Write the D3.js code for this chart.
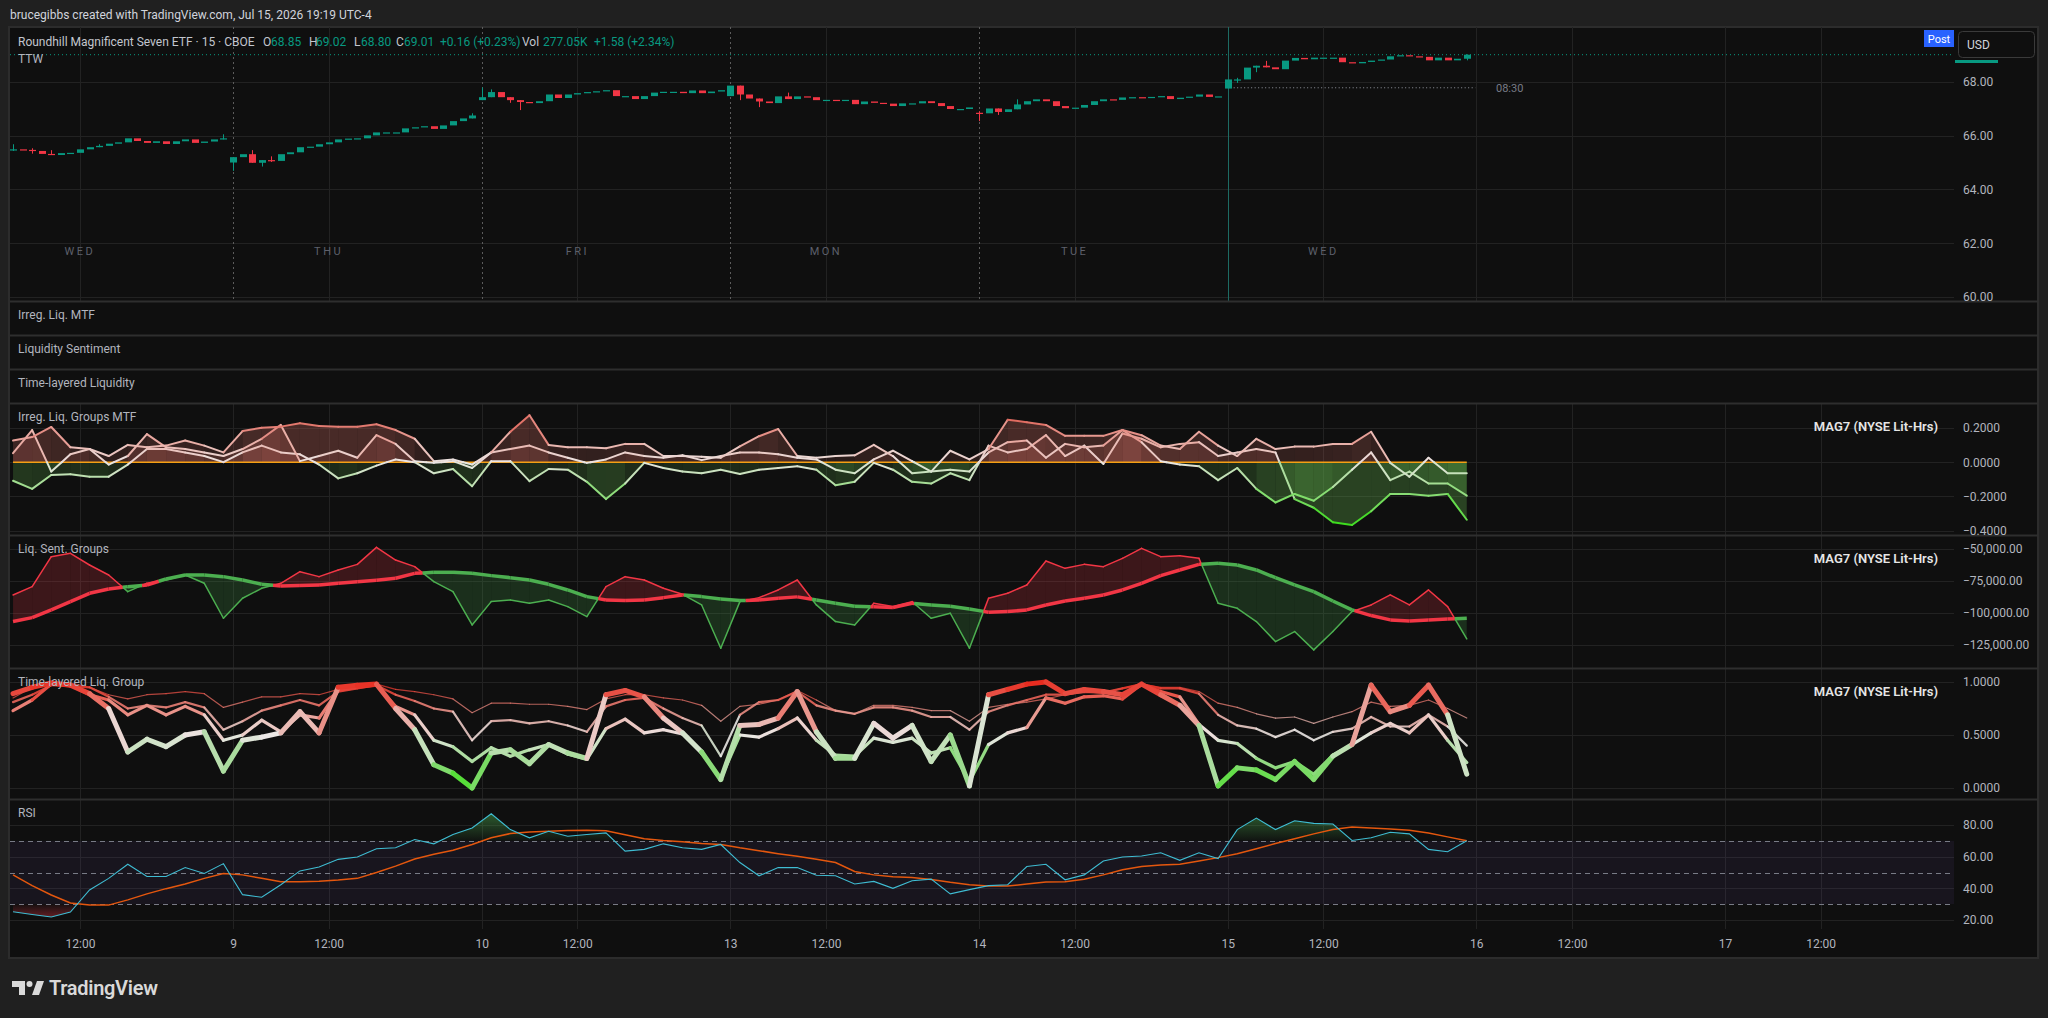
<!DOCTYPE html>
<html>
<head>
<meta charset="utf-8">
<title>TTW 15 - liquidity panes</title>
<script src="https://cdn.jsdelivr.net/npm/d3@7/dist/d3.min.js"></script>
<style>
  html, body { margin: 0; padding: 0; background: #202020; overflow: hidden; }
  text { font-family: Roboto, "Noto Sans", sans-serif; }
</style>
</head>
<body>
<svg id="chart" width="2048" height="1018"></svg>
<script>
'use strict';

// ---------------- data (bar index: 26 bars per session, 0 = Jul 8 09:30) ----------------

var closes = [
  65.49,65.47,65.43,65.32,65.28,65.35,65.36,65.49,65.57,65.62,65.70,65.75,65.90,65.80,65.73,65.79,65.69,65.79,65.86,65.73,65.78,65.86,65.90,
  65.20,65.31,64.99,65.09,65.06,65.31,65.38,65.57,65.59,65.68,65.75,65.86,65.89,65.90,66.01,66.12,66.12,66.12,66.27,66.31,66.35,66.25,66.38,66.54,66.64,66.75,
  67.43,67.62,67.43,67.32,67.25,67.21,67.28,67.53,67.40,67.53,67.58,67.62,67.65,67.69,67.47,67.47,67.36,67.47,67.60,67.63,67.63,67.58,67.68,67.58,67.64,67.69,
  67.86,67.53,67.38,67.27,67.21,67.46,67.36,67.46,67.43,67.32,67.33,67.31,67.33,67.17,67.27,67.22,67.19,67.10,67.20,67.20,67.28,67.21,67.10,66.99,66.99,67.05,
  66.83,67.01,66.88,66.98,67.16,67.28,67.35,67.28,67.10,67.02,67.04,67.14,67.28,67.35,67.33,67.42,67.43,67.41,67.44,67.47,67.36,67.41,67.45,67.53,67.44,67.46,
  68.09,68.09,68.53,68.60,68.54,68.47,68.79,68.89,68.84,68.90,68.90,68.90,68.73,68.69,68.74,68.79,68.83,68.95,68.99,68.95,68.93,68.80,68.90,68.80,68.86,69.01
];
var firstBar = 3;
// opens that do not equal the previous close (session gaps)
var gapOpens = {3: 65.48, 26: 65.00, 52: 67.32, 78: 67.47, 104: 66.85, 130: 67.75};
// [bar, high, low] for visible wicks
var wicks = [
  [3,65.68,65.43],[5,65.53,65.33],[7,65.46,65.28],[12,65.68,65.57],[25,66.05,65.86],
  [26,65.20,64.69],[28,65.46,64.99],[29,65.09,64.85],[30,65.23,65.02],[51,66.83,66.64],
  [52,67.79,67.32],[53,67.72,67.43],[55,67.43,67.22],[56,67.32,66.95],[79,67.86,67.32],
  [81,67.38,67.06],[84,67.60,67.36],[104,66.91,66.54],[106,67.01,66.77],[108,67.35,66.98],
  [131,68.15,67.96],[133,68.60,68.36],[134,68.78,68.54],[155,69.02,68.80]
];
var lastClose = 69.01;
var sessionOpenLevel = 67.78;

var xTickBars = [10,26,36,52,62,78,88,104,114,130,140,156,166,182,192];
var xTickLabels = ['12:00','9','12:00','10','12:00','13','12:00','14','12:00','15','12:00','16','12:00','17','12:00'];
var dayNameBars = [10,36,62,88,114,140];
var dayNames = ['WED','THU','FRI','MON','TUE','WED'];
var sessionBreaks = [26,52,78,104];
var currentSession = 130;

// indicator samples every second bar: 3,5,...,155
var sampleBars = d3.range(3, 156, 2);

var irregA = [0.127,0.147,0.206,0.087,0.077,0.036,0.101,0.087,0.097,0.127,0.097,0.057,0.182,0.202,0.208,0.228,0.212,0.208,0.208,0.222,0.188,0.137,0.006,0.016,-0.014,0.057,0.178,0.275,0.101,0.087,0.087,0.081,0.107,0.107,0.036,0.036,0.032,0.026,0.093,
  0.152,0.194,0.036,0.026,0.036,0.040,0.101,0.036,-0.065,-0.055,0.067,0.016,0.077,0.248,0.234,0.218,0.154,0.154,0.154,0.188,0.158,0.097,0.077,0.178,0.097,0.036,0.137,0.077,0.091,0.091,0.107,0.107,0.178,-0.004,-0.085,0.026,-0.065,-0.065];
var irregB = [0.053,0.188,-0.055,0.046,0.077,-0.014,0.036,0.164,0.087,0.077,0.057,0.036,0.077,0.137,0.218,0.006,0.036,0.067,0.026,0.158,0.107,0.006,-0.004,0.006,-0.034,0.057,0.077,0.097,0.057,0.026,-0.004,0.016,0.057,0.036,0.026,0.040,0.012,0.036,0.057,
  0.057,0.046,0.026,0.016,-0.044,-0.065,0.016,0.067,0.006,-0.055,-0.044,-0.055,0.057,0.117,0.127,0.026,0.107,0.087,0.097,0.188,0.117,0.006,-0.014,-0.024,-0.105,-0.034,-0.156,-0.236,-0.186,-0.226,-0.145,-0.044,0.057,-0.105,-0.055,-0.125,-0.125,-0.196];
var irregC = [-0.109,-0.156,-0.075,-0.071,-0.085,-0.085,-0.014,0.077,0.077,0.057,0.036,0.000,0.057,0.097,0.057,0.046,-0.014,-0.095,-0.065,-0.020,0.016,0.000,-0.065,-0.040,-0.141,0.006,0.006,-0.111,-0.040,-0.044,-0.115,-0.216,-0.125,-0.004,-0.034,-0.055,-0.065,-0.044,-0.069,
  -0.044,-0.034,-0.024,-0.044,-0.135,-0.115,-0.004,-0.044,-0.115,-0.125,-0.065,-0.105,0.097,0.057,0.077,0.158,0.036,0.097,-0.010,0.168,0.137,0.087,0.107,0.117,0.036,0.057,0.077,0.057,-0.216,-0.267,-0.352,-0.368,-0.287,-0.186,-0.186,-0.196,-0.186,-0.337];

var sentRaw = [-85900,-79400,-56000,-53400,-62500,-70300,-83300,-76800,-74200,-70300,-76800,-104100,-88500,-80700,-76800,-67700,-71600,-66400,-62000,-48700,-58600,-63800,-75500,-83300,-109300,-91100,-89800,-92400,-89800,-95000,-102800,-79400,-71600,-74200,-80700,-85400,-93700,-127500,-91100,
  -88000,-82000,-74200,-93700,-106700,-109300,-92400,-95000,-91100,-104100,-100200,-127500,-88500,-84600,-78100,-59400,-65100,-62000,-63800,-57300,-49500,-56000,-55200,-57300,-92400,-96300,-106700,-122300,-114500,-128800,-114500,-98900,-93700,-85900,-93700,-82000,-95000,-120200];
var sentSmooth = [-106700,-103600,-97600,-91100,-84600,-81200,-79400,-78100,-73400,-70300,-70300,-71600,-74200,-77600,-78900,-78600,-78100,-76800,-75500,-74400,-72900,-69000,-68200,-68200,-69000,-70800,-72400,-74200,-77600,-82000,-87200,-89800,-90300,-89800,-88000,-85900,-87200,-89000,-90300,
  -89800,-88500,-87400,-89800,-92400,-94700,-95200,-95800,-92400,-93700,-94700,-96800,-99400,-98900,-97600,-93700,-90600,-88500,-85900,-82000,-76800,-70800,-66400,-62000,-61200,-62500,-66400,-72400,-78100,-83300,-90600,-97600,-102000,-105400,-106200,-105400,-104600,-104100];

var layerSlow = [0.85,0.95,0.99,0.99,0.95,0.88,0.84,0.88,0.89,0.91,0.89,0.76,0.81,0.86,0.86,0.89,0.88,0.93,0.95,0.98,0.93,0.91,0.88,0.84,0.71,0.80,0.80,0.79,0.79,0.77,0.74,0.84,0.88,0.88,0.85,0.83,0.78,0.63,0.77,
  0.79,0.83,0.92,0.83,0.73,0.70,0.78,0.78,0.76,0.73,0.73,0.63,0.76,0.79,0.81,0.84,0.88,0.90,0.90,0.94,0.98,0.95,0.95,0.91,0.80,0.76,0.70,0.66,0.67,0.61,0.67,0.72,0.81,0.77,0.78,0.83,0.75,0.66];
var layerMid = [0.81,0.88,0.97,0.96,0.95,0.86,0.75,0.78,0.76,0.81,0.76,0.55,0.63,0.73,0.78,0.83,0.78,0.91,0.94,0.97,0.88,0.82,0.75,0.72,0.45,0.63,0.64,0.61,0.63,0.59,0.53,0.77,0.83,0.85,0.75,0.66,0.59,0.30,0.69,
  0.81,0.83,0.91,0.78,0.73,0.70,0.76,0.76,0.73,0.67,0.67,0.55,0.72,0.78,0.83,0.88,0.88,0.91,0.90,0.94,0.98,0.94,0.94,0.89,0.69,0.59,0.56,0.48,0.55,0.45,0.53,0.56,0.67,0.58,0.58,0.69,0.58,0.40];
var layerFast = [0.73,0.83,0.98,0.97,0.88,0.83,0.69,0.78,0.69,0.77,0.69,0.45,0.50,0.64,0.53,0.69,0.66,0.92,0.95,0.97,0.77,0.69,0.45,0.39,0.25,0.38,0.30,0.36,0.41,0.32,0.27,0.56,0.65,0.52,0.55,0.51,0.33,0.09,0.50,
  0.48,0.56,0.66,0.45,0.31,0.30,0.47,0.43,0.47,0.33,0.38,0.06,0.41,0.52,0.57,0.85,0.80,0.86,0.87,0.84,0.98,0.91,0.86,0.60,0.45,0.42,0.28,0.19,0.25,0.13,0.31,0.41,0.52,0.61,0.52,0.69,0.45,0.24];
var layerFastest = [0.89,0.95,0.99,0.97,0.89,0.75,0.34,0.46,0.39,0.50,0.53,0.16,0.45,0.48,0.52,0.72,0.52,0.95,0.97,0.98,0.75,0.55,0.22,0.14,0.00,0.33,0.36,0.23,0.41,0.33,0.28,0.88,0.92,0.86,0.66,0.52,0.34,0.08,0.59,
  0.60,0.66,0.91,0.53,0.28,0.28,0.61,0.47,0.59,0.25,0.50,0.02,0.88,0.93,0.98,1.00,0.89,0.93,0.91,0.88,0.98,0.88,0.78,0.59,0.02,0.19,0.17,0.08,0.25,0.08,0.30,0.41,0.97,0.72,0.78,0.97,0.69,0.13];

var rsi = [25.2,23.5,21.9,25.0,39.0,46.3,55.2,47.5,47.5,53.1,49.4,55.6,36.0,34.4,42.3,51.0,53.5,58.3,59.8,65.0,65.6,70.8,68.1,74.0,78.1,87.1,77.1,71.9,76.0,72.9,74.0,75.0,63.5,64.6,68.1,65.6,64.6,67.7,56.3,
  47.9,53.1,53.1,48.3,47.9,42.7,44.4,40.0,44.8,45.8,36.5,39.2,41.7,42.3,53.8,55.2,45.4,48.5,57.3,59.8,60.4,62.5,57.7,62.5,58.8,77.1,84.4,77.1,82.7,81.0,80.6,70.2,71.9,75.4,74.4,64.6,63.1,70.0];
var rsiMa = [48.5,41.7,35.8,30.8,29.4,29.4,32.7,36.5,39.8,42.7,46.3,49.4,48.5,46.3,44.2,44.2,44.4,45.2,46.3,50.0,54.0,58.5,61.5,64.0,67.7,71.9,74.6,75.6,76.0,76.5,76.7,76.3,73.8,71.3,70.2,69.4,68.3,67.7,65.6,
  63.8,61.9,60.2,58.3,56.3,50.6,48.5,47.3,46.9,45.6,43.8,42.3,41.5,41.5,42.7,44.0,44.2,45.8,48.5,51.7,53.8,54.8,55.2,57.3,59.4,61.9,65.0,68.3,71.3,74.4,77.1,78.8,78.1,77.5,76.7,75.0,72.5,70.0];

var priceTicks = [60, 62, 64, 66, 68];
var irregTicks = [-0.4, -0.2, 0, 0.2];
var sentTicks = [-125000, -100000, -75000, -50000];
var layerTicks = [0, 0.5, 1];
var rsiTicks = [20, 40, 60, 80];
var rsiLevels = [30, 50, 70];

// ---------------- layout ----------------

var plotL = 10, plotR = 1954, frameR = 2038;
var FONT = 'Roboto, "Noto Sans", sans-serif';
var UP = '#089981', DOWN = '#f23645', AXIS_TXT = '#b2b5be', GRID = '#222222';

var panes = {
	main:   {top: 27,  bottom: 301},
	ilm:    {top: 301, bottom: 335, label: 'Irreg. Liq. MTF'},
	ls:     {top: 335, bottom: 369, label: 'Liquidity Sentiment'},
	tl:     {top: 369, bottom: 403, label: 'Time-layered Liquidity'},
	irreg:  {top: 403, bottom: 535, label: 'Irreg. Liq. Groups MTF'},
	sent:   {top: 535, bottom: 668, label: 'Liq. Sent. Groups'},
	layer:  {top: 668, bottom: 799, label: 'Time-layered Liq. Group'},
	rsi:    {top: 799, bottom: 929, label: 'RSI'}
};

var x = d3.scaleLinear().domain([26, 182]).range([233, 1725]);
var yPrice = d3.scaleLinear().domain([59.85, 70.04]).range([301, 27]);
var yIrreg = d3.scaleLinear().domain([-0.4, 0.2]).range([530.5, 428]);
var ySent  = d3.scaleLinear().domain([-125000, -50000]).range([645, 549]);
var yLayer = d3.scaleLinear().domain([0, 1]).range([788, 682]);
var yRsi   = d3.scaleLinear().domain([20, 80]).range([920, 825]);

var irregColor = d3.scaleLinear()
	.domain([-0.35, -0.12, 0, 0.12, 0.25])
	.range(['#3ddc1e', '#a6dd96', '#ece6e4', '#e9aba3', '#e0675c'])
	.clamp(true);
var layerColor = d3.scaleLinear()
	.domain([0, 0.25, 0.5, 0.75, 1])
	.range(['#3ee01a', '#98d98a', '#ebe7e5', '#e98c82', '#e8281c'])
	.clamp(true);

var svg = d3.select('#chart');
var defs = svg.append('defs');

svg.append('rect').attr('width', 2048).attr('height', 1018).attr('fill', '#202020');
svg.append('rect')
	.attr('x', 9).attr('y', 27).attr('width', frameR - 9).attr('height', 931)
	.attr('fill', '#0f0f0f').attr('stroke', '#2c2c2c').attr('stroke-width', 2);

// clip for each pane plot area
Object.keys(panes).forEach(function(k) {
	var p = panes[k];
	defs.append('clipPath').attr('id', 'clip-' + k)
		.append('rect').attr('x', plotL).attr('y', p.top)
		.attr('width', plotR - plotL).attr('height', p.bottom - p.top);
	defs.append('clipPath').attr('id', 'aclip-' + k)
		.append('rect').attr('x', plotR).attr('y', p.top)
		.attr('width', frameR - plotR).attr('height', p.bottom - p.top);
	p.g = svg.append('g').attr('clip-path', 'url(#clip-' + k + ')');
});

// ---------------- grids ----------------

function hGrid(p, scale, values) {
	p.g.append('g').selectAll('line').data(values).join('line')
		.attr('x1', plotL).attr('x2', plotR)
		.attr('y1', function(d){ return Math.round(scale(d)) + 0.5; })
		.attr('y2', function(d){ return Math.round(scale(d)) + 0.5; })
		.attr('stroke', GRID).attr('stroke-width', 1);
}

function vGrid(p, sessionDots) {
	p.g.append('g').selectAll('line').data(xTickBars).join('line')
		.attr('x1', function(d){ return Math.round(x(d)) + 0.5; })
		.attr('x2', function(d){ return Math.round(x(d)) + 0.5; })
		.attr('y1', p.top).attr('y2', p.bottom)
		.attr('stroke', function(d){
			if (!sessionDots) return GRID;
			if (sessionBreaks.indexOf(d) >= 0) return '#5c5c5c';
			if (d === currentSession) return '#1d6b63';
			return GRID;
		})
		.attr('stroke-dasharray', function(d){ return sessionDots && sessionBreaks.indexOf(d) >= 0 ? '2,3' : null; });
}

hGrid(panes.main, yPrice, priceTicks);
vGrid(panes.main, true);
['irreg', 'sent', 'layer', 'rsi'].forEach(function(k){ vGrid(panes[k], false); });
hGrid(panes.irreg, yIrreg, irregTicks);
hGrid(panes.sent, ySent, sentTicks);
hGrid(panes.layer, yLayer, layerTicks);
hGrid(panes.rsi, yRsi, rsiTicks);

// pane separators
svg.append('g').selectAll('line')
	.data([301, 335, 369, 403, 535, 668, 799])
	.join('line')
	.attr('x1', plotL).attr('x2', frameR)
	.attr('y1', function(d){ return d + 0.5; }).attr('y2', function(d){ return d + 0.5; })
	.attr('stroke', '#2e2e2e').attr('stroke-width', 2);

// ---------------- right axes ----------------

function rightAxis(key, scale, values, fmt) {
	var ax = svg.append('g')
		.attr('clip-path', 'url(#aclip-' + key + ')')
		.append('g')
		.attr('transform', 'translate(' + plotR + ',0)')
		.call(d3.axisRight(scale).tickValues(values).tickFormat(fmt).tickSize(0).tickPadding(9));
	ax.attr('font-family', FONT).attr('font-size', 12);
	ax.select('.domain').remove();
	ax.selectAll('text').attr('fill', AXIS_TXT);
}
rightAxis('main', yPrice, priceTicks, d3.format('.2f'));
rightAxis('irreg', yIrreg, irregTicks, d3.format('.4f'));
rightAxis('sent', ySent, sentTicks, d3.format(',.2f'));
rightAxis('layer', yLayer, layerTicks, d3.format('.4f'));
rightAxis('rsi', yRsi, rsiTicks, d3.format('.2f'));

// ---------------- time axis ----------------

var xAxis = svg.append('g')
	.attr('transform', 'translate(0,929)')
	.call(d3.axisBottom(x).tickValues(xTickBars)
		.tickFormat(function(d, i){ return xTickLabels[i]; })
		.tickSize(0).tickPadding(10));
xAxis.attr('font-family', FONT).attr('font-size', 12);
xAxis.select('.domain').remove();
xAxis.selectAll('text').attr('fill', AXIS_TXT);

// weekday watermarks in price pane
panes.main.g.append('g').selectAll('text').data(dayNameBars).join('text')
	.attr('x', function(d){ return x(d); }).attr('y', 255)
	.attr('text-anchor', 'middle').attr('font-size', 11).attr('letter-spacing', 2.5)
	.attr('fill', '#5d606b')
	.text(function(d, i){ return dayNames[i]; });

// ---------------- candles ----------------

var wickMap = {};
wicks.forEach(function(w){ wickMap[w[0]] = [w[1], w[2]]; });

var candles = closes.map(function(c, i) {
	var bar = firstBar + i;
	var o = gapOpens[bar] !== undefined ? gapOpens[bar] : closes[i - 1];
	return {bar: bar, o: o, c: c, w: wickMap[bar]};
});

var cg = panes.main.g.append('g');
cg.selectAll('line').data(candles.filter(function(d){ return d.w; })).join('line')
	.attr('x1', function(d){ return Math.round(x(d.bar)) + 0.5; })
	.attr('x2', function(d){ return Math.round(x(d.bar)) + 0.5; })
	.attr('y1', function(d){ return yPrice(d.w[0]); })
	.attr('y2', function(d){ return yPrice(d.w[1]); })
	.attr('stroke', function(d){ return d.c >= d.o ? UP : DOWN; });
cg.selectAll('rect').data(candles).join('rect')
	.attr('x', function(d){ return Math.round(x(d.bar)) - 3; })
	.attr('width', 7)
	.attr('y', function(d){ return yPrice(Math.max(d.o, d.c)); })
	.attr('height', function(d){ return Math.max(1.2, yPrice(Math.min(d.o, d.c)) - yPrice(Math.max(d.o, d.c))); })
	.attr('fill', function(d){ return d.c >= d.o ? UP : DOWN; });

// last price dotted line and session-open marker
panes.main.g.append('line')
	.attr('x1', plotL).attr('x2', plotR)
	.attr('y1', yPrice(lastClose)).attr('y2', yPrice(lastClose))
	.attr('stroke', UP).attr('stroke-dasharray', '1,3');
svg.append('line')
	.attr('x1', x(currentSession) + 6).attr('x2', x(156) - 1)
	.attr('y1', yPrice(sessionOpenLevel)).attr('y2', yPrice(sessionOpenLevel))
	.attr('stroke', '#9598a1').attr('stroke-dasharray', '1,2.5');
svg.append('text').attr('x', 1496).attr('y', yPrice(sessionOpenLevel) + 4)
	.attr('font-size', 11).attr('fill', '#787b86').text('08:30');

// ---------------- Irreg. Liq. Groups MTF ----------------

function zeroSplitSegments(vals) {
	var segs = [];
	for (var i = 0; i < vals.length - 1; i++) {
		var x1 = x(sampleBars[i]), x2 = x(sampleBars[i + 1]);
		var v1 = vals[i], v2 = vals[i + 1];
		if (v1 * v2 < 0) {
			var xc = x1 + (x2 - x1) * v1 / (v1 - v2);
			segs.push({a: [x1, v1], b: [xc, 0], v: v1 / 2});
			segs.push({a: [xc, 0], b: [x2, v2], v: v2 / 2});
		} else {
			segs.push({a: [x1, v1], b: [x2, v2], v: (v1 + v2) / 2});
		}
	}
	return segs;
}

var irregSeries = [irregC, irregB, irregA];
var irregFill = panes.irreg.g.append('g');
irregSeries.forEach(function(vals) {
	irregFill.append('g').selectAll('path').data(zeroSplitSegments(vals)).join('path')
		.attr('d', function(s) {
			return 'M' + s.a[0] + ',' + yIrreg(0) + 'L' + s.a[0] + ',' + yIrreg(s.a[1]) +
				'L' + s.b[0] + ',' + yIrreg(s.b[1]) + 'L' + s.b[0] + ',' + yIrreg(0) + 'Z';
		})
		.attr('fill', function(s){ return s.v >= 0 ? '#c0655b' : '#5fae4c'; })
		.attr('fill-opacity', function(s){ return 0.12 + Math.min(0.2, Math.abs(s.v) * 1.0); });
});
panes.irreg.g.append('line')
	.attr('x1', x(sampleBars[0])).attr('x2', x(sampleBars[sampleBars.length - 1]))
	.attr('y1', yIrreg(0)).attr('y2', yIrreg(0))
	.attr('stroke', '#f59f14').attr('stroke-width', 1.5);
irregSeries.forEach(function(vals) {
	panes.irreg.g.append('g').selectAll('line').data(zeroSplitSegments(vals)).join('line')
		.attr('x1', function(s){ return s.a[0]; }).attr('y1', function(s){ return yIrreg(s.a[1]); })
		.attr('x2', function(s){ return s.b[0]; }).attr('y2', function(s){ return yIrreg(s.b[1]); })
		.attr('stroke', function(s){ return irregColor(s.v); })
		.attr('stroke-width', 2).attr('stroke-linecap', 'round');
});

// ---------------- Liq. Sent. Groups ----------------

var sentSegs = [];
for (var i = 0; i < sentRaw.length - 1; i++) {
	var x1 = x(sampleBars[i]), x2 = x(sampleBars[i + 1]);
	var d1 = sentRaw[i] - sentSmooth[i], d2 = sentRaw[i + 1] - sentSmooth[i + 1];
	if (d1 * d2 < 0) {
		var t = d1 / (d1 - d2), xc = x1 + (x2 - x1) * t;
		var vc = sentRaw[i] + t * (sentRaw[i + 1] - sentRaw[i]);
		var sc = sentSmooth[i] + t * (sentSmooth[i + 1] - sentSmooth[i]);
		sentSegs.push({x1: x1, x2: xc, r1: sentRaw[i], r2: vc, s1: sentSmooth[i], s2: sc, up: d1 > 0});
		sentSegs.push({x1: xc, x2: x2, r1: vc, r2: sentRaw[i + 1], s1: sc, s2: sentSmooth[i + 1], up: d2 > 0});
	} else {
		sentSegs.push({x1: x1, x2: x2, r1: sentRaw[i], r2: sentRaw[i + 1], s1: sentSmooth[i], s2: sentSmooth[i + 1], up: (d1 + d2) > 0});
	}
}
var sg = panes.sent.g;
sg.append('g').selectAll('path').data(sentSegs).join('path')
	.attr('d', function(s) {
		return 'M' + s.x1 + ',' + ySent(s.r1) + 'L' + s.x2 + ',' + ySent(s.r2) +
			'L' + s.x2 + ',' + ySent(s.s2) + 'L' + s.x1 + ',' + ySent(s.s1) + 'Z';
	})
	.attr('fill', function(s){ return s.up ? DOWN : '#4caf50'; })
	.attr('fill-opacity', 0.2);
sg.append('g').selectAll('line').data(sentSegs).join('line')
	.attr('x1', function(s){ return s.x1; }).attr('x2', function(s){ return s.x2; })
	.attr('y1', function(s){ return ySent(s.r1); }).attr('y2', function(s){ return ySent(s.r2); })
	.attr('stroke', function(s){ return s.up ? DOWN : '#4caf50'; })
	.attr('stroke-width', 1.5).attr('stroke-linecap', 'round');
sg.append('g').selectAll('line').data(sentSegs).join('line')
	.attr('x1', function(s){ return s.x1; }).attr('x2', function(s){ return s.x2; })
	.attr('y1', function(s){ return ySent(s.s1); }).attr('y2', function(s){ return ySent(s.s2); })
	.attr('stroke', function(s){ return s.up ? DOWN : '#4caf50'; })
	.attr('stroke-width', 3.5).attr('stroke-linecap', 'butt');

// ---------------- Time-layered Liq. Group ----------------

var layerSeries = [
	{vals: layerSlow, w: 1.2, op: 0.75},
	{vals: layerMid, w: 2.2, op: 0.9},
	{vals: layerFast, w: 3.2, op: 1},
	{vals: layerFastest, w: 5, op: 1}
];
layerSeries.forEach(function(s) {
	var segs = d3.pairs(d3.zip(sampleBars, s.vals));
	panes.layer.g.append('g').selectAll('line').data(segs).join('line')
		.attr('x1', function(p){ return x(p[0][0]); }).attr('y1', function(p){ return yLayer(p[0][1]); })
		.attr('x2', function(p){ return x(p[1][0]); }).attr('y2', function(p){ return yLayer(p[1][1]); })
		.attr('stroke', function(p){ return layerColor((p[0][1] + p[1][1]) / 2); })
		.attr('stroke-opacity', s.op)
		.attr('stroke-width', s.w).attr('stroke-linecap', 'round');
});

// ---------------- RSI ----------------

var rg = panes.rsi.g;
rg.append('rect')
	.attr('x', plotL).attr('width', plotR - plotL)
	.attr('y', yRsi(70)).attr('height', yRsi(30) - yRsi(70))
	.attr('fill', '#7e57c2').attr('fill-opacity', 0.09);
rg.append('g').selectAll('line').data(rsiLevels).join('line')
	.attr('x1', plotL).attr('x2', plotR)
	.attr('y1', function(d){ return Math.round(yRsi(d)) + 0.5; })
	.attr('y2', function(d){ return Math.round(yRsi(d)) + 0.5; })
	.attr('stroke', '#787b86').attr('stroke-dasharray', '5,4');

var obGrad = defs.append('linearGradient').attr('id', 'ob-grad')
	.attr('gradientUnits', 'userSpaceOnUse')
	.attr('x1', 0).attr('x2', 0).attr('y1', yRsi(88)).attr('y2', yRsi(70));
obGrad.append('stop').attr('offset', 0).attr('stop-color', '#4caf50').attr('stop-opacity', 0.5);
obGrad.append('stop').attr('offset', 1).attr('stop-color', '#4caf50').attr('stop-opacity', 0.03);
var osGrad = defs.append('linearGradient').attr('id', 'os-grad')
	.attr('gradientUnits', 'userSpaceOnUse')
	.attr('x1', 0).attr('x2', 0).attr('y1', yRsi(30)).attr('y2', yRsi(20));
osGrad.append('stop').attr('offset', 0).attr('stop-color', DOWN).attr('stop-opacity', 0.03);
osGrad.append('stop').attr('offset', 1).attr('stop-color', DOWN).attr('stop-opacity', 0.45);

defs.append('clipPath').attr('id', 'clip-ob').append('rect')
	.attr('x', plotL).attr('y', panes.rsi.top).attr('width', plotR - plotL).attr('height', yRsi(70) - panes.rsi.top);
defs.append('clipPath').attr('id', 'clip-os').append('rect')
	.attr('x', plotL).attr('y', yRsi(30)).attr('width', plotR - plotL).attr('height', panes.rsi.bottom - yRsi(30));

var rsiPts = d3.zip(sampleBars, rsi);
rg.append('path').datum(rsiPts)
	.attr('clip-path', 'url(#clip-ob)')
	.attr('d', d3.area().x(function(d){ return x(d[0]); }).y0(yRsi(70)).y1(function(d){ return yRsi(d[1]); }))
	.attr('fill', 'url(#ob-grad)');
rg.append('path').datum(rsiPts)
	.attr('clip-path', 'url(#clip-os)')
	.attr('d', d3.area().x(function(d){ return x(d[0]); }).y0(yRsi(30)).y1(function(d){ return yRsi(d[1]); }))
	.attr('fill', 'url(#os-grad)');

var rsiLine = d3.line().x(function(d){ return x(d[0]); }).y(function(d){ return yRsi(d[1]); });
rg.append('path').datum(d3.zip(sampleBars, rsiMa))
	.attr('d', rsiLine).attr('fill', 'none').attr('stroke', '#e4570e').attr('stroke-width', 1.5);
rg.append('path').datum(rsiPts)
	.attr('d', rsiLine).attr('fill', 'none').attr('stroke', '#3fbcd2').attr('stroke-width', 1.1);

// ---------------- texts ----------------

svg.append('text').attr('x', 10).attr('y', 19)
	.attr('font-size', 12).attr('fill', '#d1d4dc')
	.text('brucegibbs created with TradingView.com, Jul 15, 2026 19:19 UTC-4');

var legendParts = [
	[18, 'Roundhill Magnificent Seven ETF \u00b7 15 \u00b7 CBOE', '#c3c6ce'],
	[263, 'O', '#c3c6ce'], [271, '68.85', UP],
	[309, 'H', '#c3c6ce'], [316, '69.02', UP],
	[354, 'L', '#c3c6ce'], [361, '68.80', UP],
	[396, 'C', '#c3c6ce'], [404, '69.01', UP],
	[440, '+0.16 (+0.23%)', UP],
	[522, 'Vol', '#c3c6ce'], [543, '277.05K', UP],
	[594, '+1.58 (+2.34%)', UP]
];
svg.append('g').selectAll('text').data(legendParts).join('text')
	.attr('x', function(d){ return d[0]; }).attr('y', 46)
	.attr('font-size', 12).attr('fill', function(d){ return d[2]; })
	.text(function(d){ return d[1]; });
svg.append('text').attr('x', 18).attr('y', 63).attr('font-size', 12).attr('fill', '#b2b5be').text('TTW');

Object.keys(panes).forEach(function(k) {
	var p = panes[k];
	if (!p.label) return;
	svg.append('text').attr('x', 18).attr('y', p.top + 18)
		.attr('font-size', 12).attr('fill', '#b2b5be').text(p.label);
});

[panes.irreg, panes.sent, panes.layer].forEach(function(p) {
	svg.append('text').attr('x', 1938).attr('y', p.top + 28)
		.attr('text-anchor', 'end').attr('font-size', 13).attr('font-weight', 600)
		.attr('fill', '#e6e6e6').text('MAG7 (NYSE Lit-Hrs)');
});

// price scale badges
svg.append('rect').attr('x', 1924).attr('y', 30).attr('width', 30).attr('height', 17).attr('fill', '#2962ff');
svg.append('text').attr('x', 1939).attr('y', 43).attr('text-anchor', 'middle')
	.attr('font-size', 11).attr('fill', '#ffffff').text('Post');
svg.append('rect').attr('x', 1958.5).attr('y', 31.5).attr('width', 76).attr('height', 26).attr('rx', 4)
	.attr('fill', '#0f0f0f').attr('stroke', '#3a3a3a');
svg.append('text').attr('x', 1967).attr('y', 49).attr('font-size', 12).attr('fill', '#d1d4dc').text('USD');
svg.append('rect').attr('x', 1955).attr('y', 60).attr('width', 43).attr('height', 3).attr('fill', UP);

// footer logo
var logo = svg.append('g').attr('fill', '#d9d9d9');
logo.append('path').attr('d', 'M12,981H25V995H19V987H12Z');
logo.append('circle').attr('cx', 29.5).attr('cy', 984).attr('r', 3);
logo.append('path').attr('d', 'M32,995L37,981H44L39,995Z');
svg.append('text').attr('x', 49).attr('y', 995)
	.attr('font-size', 20).attr('font-weight', 600).attr('fill', '#d9d9d9').attr('letter-spacing', -0.3)
	.text('TradingView');
</script>
</body>
</html>
